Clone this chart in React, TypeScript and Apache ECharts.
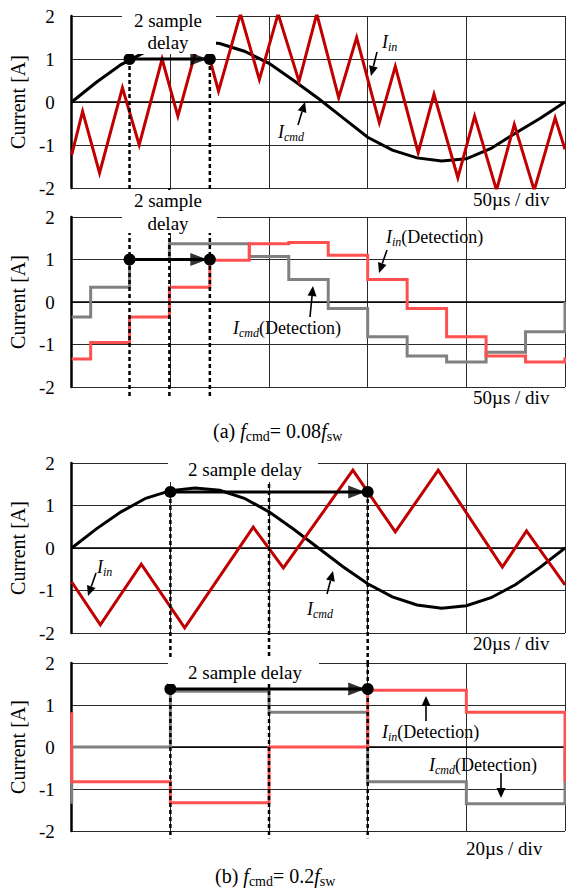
import React, { useEffect, useRef } from "react";
import * as echarts from "echarts";

// ---------- (a) f_cmd = 0.08 f_sw  (time in µs, 50 µs / div) ----------
const icmdA_t = [0, 12.5, 25, 37.5, 50, 62.5, 75, 87.5, 100, 112.5, 125, 137.5, 150, 162.5, 175, 187.5, 200, 212.5, 225, 237.5, 250];
const icmdA_v = [0, 0.46, 0.87, 1.17, 1.35, 1.41, 1.36, 1.18, 0.9, 0.5, 0.08, -0.37, -0.82, -1.12, -1.3, -1.37, -1.32, -1.08, -0.72, -0.38, 0];

const iinA_t = [0, 5.5, 14.1, 25.7, 34.2, 45.8, 53.8, 65.9, 74.4, 85.5, 95.1, 104.6, 115.2, 124.2, 135.3, 144.4, 155.9, 164.0, 175.6, 183.6, 195.7, 204.2, 215.3, 224.3, 234.4, 245.0, 250];
const iinA_v = [-1.23, -0.22, -1.65, 0.33, -1.0, 1.0, -0.33, 1.69, 0.25, 2.05, 0.52, 2.05, 0.48, 2.05, 0.1, 1.5, -0.48, 0.83, -1.18, 0.18, -1.76, -0.33, -2.05, -0.52, -2.05, -0.37, -1.1];

const sampleA_t = [0, 9.6, 29.3, 49.5, 70, 90, 110, 130, 150, 170, 190, 210, 230, 250];
const icmdDetA = [-0.35, 0.35, 1.0, 1.37, 1.37, 1.07, 0.53, -0.15, -0.82, -1.27, -1.41, -1.18, -0.7];
const iinDetA = [-1.34, -0.95, -0.35, 0.35, 0.98, 1.37, 1.4, 1.1, 0.53, -0.15, -0.82, -1.27, -1.41];
const icmdDetA_next = 0;
const iinDetA_next = -1.3;

const delayA_t = [29.3, 70];
const delayA_v = 1.0;

// ---------- (b) f_cmd = 0.2 f_sw  (time in µs, 20 µs / div) ----------
const icmdB_t = [0, 5, 10, 15, 20, 25, 30, 35, 40, 45, 50, 55, 60, 65, 70, 75, 80, 85, 90, 95, 100];
const icmdB_v = [0, 0.45, 0.85, 1.17, 1.35, 1.41, 1.36, 1.17, 0.85, 0.44, 0, -0.44, -0.84, -1.15, -1.34, -1.42, -1.36, -1.17, -0.86, -0.45, 0];

const iinB_t = [0, 5.8, 14.1, 22.9, 36.8, 42.9, 57.0, 65.6, 74.3, 87.3, 92.2, 100];
const iinB_v = [-0.8, -1.81, -0.38, -1.88, 0.49, -0.47, 1.83, 0.38, 1.83, -0.45, 0.4, -0.87];

const sampleB_t = [0, 20, 40, 60, 80, 100];
const icmdDetB = [0, 1.33, 0.83, -0.83, -1.35];
const iinDetB = [-0.83, -1.33, 0, 1.35, 0.83];

const delayB_t = [20, 60];
const delayB_v3 = 1.32;
const delayB_v4 = 1.38;

const yTicks = [-2, -1, 0, 1, 2];

// ---------- styling ----------
const F = "Liberation Serif";
const DARK_RED = "#c00000";
const LIGHT_RED = "#ff5050";
const GRAY = "#808080";

const pairs = (t: number[], v: number[]) => t.map((x, i) => [x, v[i]]);

// step data: horizontal at v[i] from t[i] to t[i+1]
const stepData = (t: number[], v: number[], prev: number | null, next: number | null) => {
  const d: number[][] = [];
  if (prev !== null) d.push([t[0], prev]);
  v.forEach((val, i) => d.push([t[i], val]));
  d.push([t[t.length - 1], v[v.length - 1]]);
  if (next !== null) d.push([t[t.length - 1], next]);
  return d;
};

const lineS = (g: number, data: number[][], color: string, width: number, extra: any = {}) => ({
  type: "line",
  xAxisIndex: g,
  yAxisIndex: g,
  data,
  symbol: "none",
  showSymbol: false,
  lineStyle: { color, width, join: "miter" },
  z: 10,
  ...extra,
});

const dashed = (g: number, t: number, from: number, to: number) => ({
  type: "line",
  xAxisIndex: g,
  yAxisIndex: g,
  data: [[t, from], [t, to]],
  symbol: "none",
  clip: false,
  lineStyle: { color: "#000", width: 2.5, type: [4, 3] },
  z: 30,
});

const delayArrow = (g: number, t: number[], v: number) => [
  {
    type: "line",
    xAxisIndex: g,
    yAxisIndex: g,
    data: [[t[0], v], [t[1], v]],
    symbol: "circle",
    symbolSize: 12,
    showSymbol: true,
    itemStyle: { color: "#000" },
    lineStyle: { color: "#000", width: 3 },
    z: 60,
  },
  {
    type: "scatter",
    xAxisIndex: g,
    yAxisIndex: g,
    data: [[t[1], v]],
    symbol: "triangle",
    symbolSize: [13, 17],
    symbolRotate: -90,
    symbolOffset: [-11, 0],
    itemStyle: { color: "#000" },
    z: 61,
  },
];

const rich = {
  n: { fontFamily: F, fontSize: 18, color: "#000", lineHeight: 22 },
  i: { fontFamily: F, fontSize: 18, fontStyle: "italic", color: "#000", lineHeight: 22 },
  s: { fontFamily: F, fontSize: 12, fontStyle: "italic", color: "#000", lineHeight: 12, verticalAlign: "bottom" },
  cn: { fontFamily: F, fontSize: 20, color: "#000", lineHeight: 24 },
  ci: { fontFamily: F, fontSize: 20, fontStyle: "italic", color: "#000", lineHeight: 24 },
  cs: { fontFamily: F, fontSize: 14, color: "#000", lineHeight: 14, verticalAlign: "bottom" },
};

const txt = (text: string, x: number, y: number, align = "left", size = 19) => ({
  type: "text",
  x,
  y,
  z: 110,
  style: { text, fontFamily: F, fontSize: size, fill: "#000", align, verticalAlign: "middle" },
});

const rtxt = (text: string, x: number, y: number) => ({
  type: "text",
  x,
  y,
  z: 110,
  style: { text, rich, fontFamily: F, align: "left", verticalAlign: "middle", fill: "#000" },
});

const box = (x: number, y: number, w: number, h: number) => ({
  type: "rect",
  z: 100,
  shape: { x, y, width: w, height: h },
  style: { fill: "#fff" },
});

const arrow = (x1: number, y1: number, x2: number, y2: number) => {
  const dx = x2 - x1, dy = y2 - y1;
  const L = Math.hypot(dx, dy);
  const ux = dx / L, uy = dy / L;
  const hl = 10, hw = 4.5;
  const bx = x2 - ux * hl, by = y2 - uy * hl;
  return [
    { type: "line", z: 110, shape: { x1, y1, x2: bx, y2: by }, style: { stroke: "#000", lineWidth: 1.6 } },
    {
      type: "polygon",
      z: 110,
      shape: { points: [[x2, y2], [bx - uy * hw, by + ux * hw], [bx + uy * hw, by - ux * hw]] },
      style: { fill: "#000" },
    },
  ];
};

export default function App() {
  const ref = useRef<HTMLDivElement>(null);
  useEffect(() => {
    if (!ref.current) return;
    const chart = echarts.init(ref.current, undefined, { renderer: "svg" });

    const grids = [
      { left: 69, top: 16, width: 496, height: 172 },
      { left: 69, top: 217, width: 496, height: 170 },
      { left: 69, top: 463, width: 496, height: 170 },
      { left: 69, top: 663, width: 496, height: 168 },
    ];
    const splitLine = { show: true, lineStyle: { color: "#2a2a2a", width: 1 } };
    const xAxis = grids.map((_, i) => ({
      type: "value",
      gridIndex: i,
      min: 0,
      max: i < 2 ? 250 : 100,
      interval: i < 2 ? 50 : 20,
      axisLabel: { show: false },
      axisTick: { show: false },
      axisLine: { show: true, lineStyle: { color: "#000", width: 1.5 } },
      splitLine,
    }));
    const yAxis = grids.map((_, i) => ({
      type: "value",
      gridIndex: i,
      min: yTicks[0],
      max: yTicks[yTicks.length - 1],
      interval: 1,
      name: "Current [A]",
      nameLocation: "middle",
      nameGap: 42,
      nameTextStyle: { fontFamily: F, fontSize: 20, color: "#000" },
      axisLabel: { show: true, fontFamily: F, fontSize: 19, color: "#000", margin: 17 },
      axisTick: { show: false },
      axisLine: { show: true, lineStyle: { color: "#000", width: 2.5 } },
      splitLine,
    }));

    const series: any[] = [
      // panel 1
      lineS(0, pairs(icmdA_t, icmdA_v), "#000", 3),
      lineS(0, pairs(iinA_t, iinA_v), DARK_RED, 3),
      dashed(0, delayA_t[0], delayA_v, -2.68),
      dashed(0, delayA_t[1], delayA_v, -2.68),
      dashed(0, sampleA_t[3], -2, -2.68),
      ...delayArrow(0, delayA_t, delayA_v),
      // panel 2
      lineS(1, stepData(sampleA_t, icmdDetA, null, icmdDetA_next), GRAY, 3, { step: "end" }),
      lineS(1, stepData(sampleA_t, iinDetA, null, iinDetA_next), LIGHT_RED, 3, { step: "end" }),
      dashed(1, delayA_t[0], 2, -2.25),
      dashed(1, sampleA_t[3], 2, -2.25),
      dashed(1, delayA_t[1], 2, -2.25),
      ...delayArrow(1, delayA_t, delayA_v),
      // panel 3
      lineS(2, pairs(icmdB_t, icmdB_v), "#000", 3),
      lineS(2, pairs(iinB_t, iinB_v), DARK_RED, 3),
      dashed(2, delayB_t[0], delayB_v3, -2.71),
      dashed(2, sampleB_t[2], 2, -2.71),
      dashed(2, delayB_t[1], delayB_v3, -2.71),
      ...delayArrow(2, delayB_t, delayB_v3),
      // panel 4
      lineS(3, stepData(sampleB_t, icmdDetB, icmdDetB[icmdDetB.length - 1], icmdDetB[0]), GRAY, 3, { step: "end" }),
      lineS(3, stepData(sampleB_t, iinDetB, iinDetB[iinDetB.length - 1], iinDetB[0]), LIGHT_RED, 3, { step: "end" }),
      dashed(3, delayB_t[0], 2, -2.17),
      dashed(3, sampleB_t[2], 2, -2.17),
      dashed(3, delayB_t[1], 2, -2.17),
      ...delayArrow(3, delayB_t, delayB_v4),
    ];

    const graphic: any[] = [
      // panel 1
      box(122, 4, 94, 50),
      txt("2 sample", 168, 20, "center"),
      txt("delay", 168, 42, "center"),
      rtxt("{i|I}{s|in}", 382, 42),
      ...arrow(377, 52, 371, 76),
      rtxt("{i|I}{s|cmd}", 278, 132),
      ...arrow(298, 125, 305, 102),
      txt("50µs / div", 473, 199),
      // panel 2
      box(122, 190, 95, 43),
      txt("2 sample", 168, 200, "center"),
      txt("delay", 168, 223, "center"),
      rtxt("{i|I}{s|in}{n|(Detection)}", 386, 237),
      ...arrow(387, 250, 379, 273),
      rtxt("{i|I}{s|cmd}{n|(Detection)}", 233, 328),
      ...arrow(310, 317, 313, 286),
      txt("50µs / div", 473, 397),
      // caption (a)
      rtxt("{cn|(a) }{ci|f}{cs|cmd}{cn|= 0.08}{ci|f}{cs|sw}", 213, 431),
      // panel 3
      box(168, 456, 150, 26),
      txt("2 sample delay", 188, 469),
      rtxt("{i|I}{s|in}", 97, 567),
      ...arrow(96, 573, 88, 596),
      rtxt("{i|I}{s|cmd}", 307, 609),
      ...arrow(327, 594, 333, 571),
      txt("20µs / div", 473, 643),
      // panel 4
      box(168, 657, 151, 27),
      txt("2 sample delay", 188, 672),
      rtxt("{i|I}{s|in}{n|(Detection)}", 382, 732),
      ...arrow(426, 721, 426, 696),
      rtxt("{i|I}{s|cmd}{n|(Detection)}", 429, 765),
      ...arrow(501, 773, 501, 798),
      txt("20µs / div", 466, 848),
      // caption (b)
      rtxt("{cn|(b) }{ci|f}{cs|cmd}{cn|= 0.2}{ci|f}{cs|sw}", 215, 876),
    ];

    chart.setOption({
      animation: false,
      backgroundColor: "#fff",
      textStyle: { fontFamily: F },
      grid: grids,
      xAxis,
      yAxis,
      series,
      graphic,
    });
    return () => chart.dispose();
  }, []);

  return (
    <div
      ref={ref}
      style={{ position: "absolute", left: 0, top: 0, width: 566, height: 893 }}
    />
  );
}
